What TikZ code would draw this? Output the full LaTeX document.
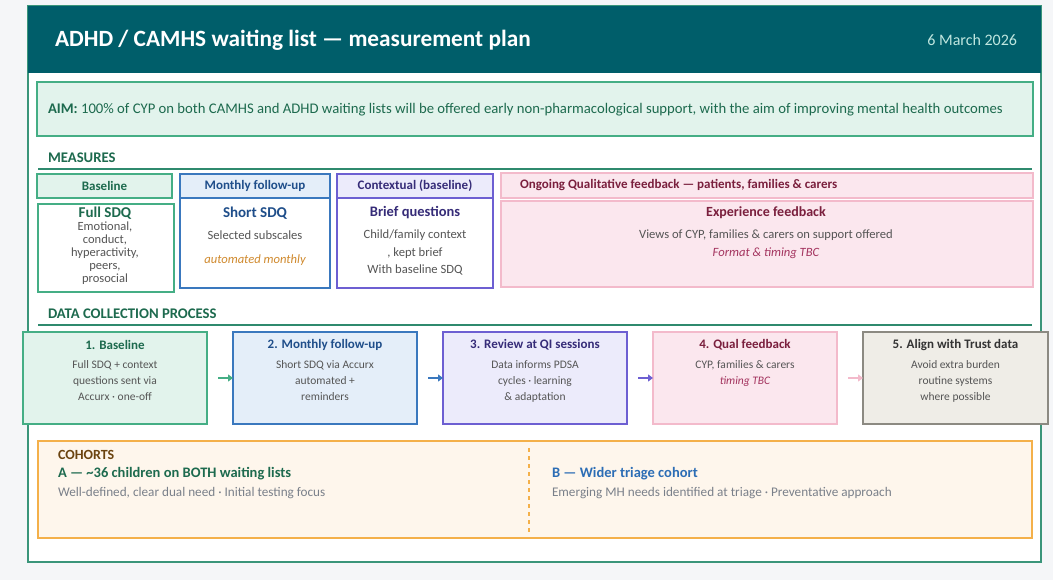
\documentclass[tikz,border=0pt]{standalone}
\usepackage{fontspec}
\setmainfont{Carlito}
\usetikzlibrary{arrows.meta}

% palette
\definecolor{pagebg}{HTML}{F5F6F8}
\definecolor{headteal}{HTML}{005E6A}
\definecolor{datecol}{HTML}{BFE6DF}
\definecolor{cardline}{HTML}{3A957A}
\definecolor{rulecol}{HTML}{2F8A6E}
\definecolor{grnfill}{HTML}{E2F3EC}
\definecolor{grnline}{HTML}{45AE85}
\definecolor{grntext}{HTML}{1D6A4E}
\definecolor{blufill}{HTML}{E4EEF9}
\definecolor{bluline}{HTML}{3A78BE}
\definecolor{blutext}{HTML}{1F4E8A}
\definecolor{purfill}{HTML}{ECEBFB}
\definecolor{purline}{HTML}{6D5FD2}
\definecolor{purtext}{HTML}{362C78}
\definecolor{pnkfill}{HTML}{FBE7EE}
\definecolor{pnkline}{HTML}{F3BACB}
\definecolor{pnktext}{HTML}{7A1F3D}
\definecolor{pnkital}{HTML}{A3335E}
\definecolor{orgital}{HTML}{D08A2E}
\definecolor{bodygray}{HTML}{555555}
\definecolor{gryfill}{HTML}{EFEDE7}
\definecolor{gryline}{HTML}{8C8A82}
\definecolor{grytext}{HTML}{333333}
\definecolor{cohfill}{HTML}{FEF6EC}
\definecolor{cohline}{HTML}{F4B04A}
\definecolor{cohtext}{HTML}{6B4410}
\definecolor{cohblue}{HTML}{2C6DB5}
\definecolor{cohgray}{HTML}{7A808A}

\newcommand\fsz[2]{\fontsize{#1}{#2}\selectfont}

\begin{document}
\begin{tikzpicture}[x=1pt,y=-1pt,
  every node/.append style={inner sep=0pt, outer sep=0pt},
  panel/.style={draw, line width=1.5pt, anchor=north west},
  headtxt/.style={font=\bfseries\fsz{13}{15}},
  bodytxt/.style={font=\fsz{12.6}{14}, text=bodygray},
  stepbox/.style={panel, minimum width=184, minimum height=92},
  steptitle/.style={font=\bfseries\fsz{13}{15}},
  steptxt/.style={font=\fsz{11.5}{16}, text=bodygray, align=center},
  sectlabel/.style={font=\bfseries\fsz{14.7}{17}, text=grntext, anchor=west},
  flow/.style={line width=1.5pt, -{Triangle[length=5pt,width=7pt]}, shorten <=11pt}
]
\useasboundingbox (0,0) rectangle (1053,580);
\fill[pagebg] (0,0) rectangle (1053,580);

% card and header band
\node[panel, fill=white, draw=cardline, line width=1.2pt, minimum width=1013, minimum height=556] (card) at (28,6) {};
\node[panel, fill=headteal, draw=none, minimum width=1013, minimum height=67] (header) at (28,6) {};
\node[anchor=west, text=white, font=\bfseries\fsz{23.3}{27}] (title) at (55,40) {ADHD / CAMHS waiting list — measurement plan};
\node[anchor=east, text=datecol, font=\fsz{16}{19}] (date) at (1017,40) {6 March 2026};

% aim
\node[panel, fill=grnfill, draw=grnline, minimum width=996, minimum height=54] (aim) at (37,82) {};
\node[anchor=west, text=grntext, font=\fsz{14.7}{17}] (aimtxt) at (48,110) {\textbf{AIM:} 100\% of CYP on both CAMHS and ADHD waiting lists will be offered early non-pharmacological support, with the aim of improving mental health outcomes};

% measures
\node[sectlabel] (measures) at (48,158) {MEASURES};
\draw[rulecol, line width=1.5pt] (38,169) -- (1032,169);

\node[panel, fill=grnfill, draw=grnline, minimum width=135, minimum height=24] (m1h) at (37,174) {};
\node[headtxt, text=grntext] at (m1h.center) {Baseline};
\node[panel, fill=white, draw=grnline, minimum width=136, minimum height=88] (m1b) at (38,204) {};
\node[font=\bfseries\fsz{15}{17}, text=grntext] (m1t) at (105,213) {Full SDQ};
\node[font=\fsz{12.5}{13}, text=bodygray, align=center, anchor=north] (m1l) at (105,222) {Emotional,\\conduct,\\hyperactivity,\\peers,\\prosocial};

\node[panel, fill=blufill, draw=bluline, minimum width=150, minimum height=24] (m2h) at (180,174) {};
\node[headtxt, text=blutext] at (m2h.center) {Monthly follow-up};
\node[panel, fill=white, draw=bluline, minimum width=150, minimum height=90] (m2b) at (180,198) {};
\node[font=\bfseries\fsz{15}{17}, text=blutext] (m2t) at (255,213) {Short SDQ};
\node[bodytxt] (m2l) at (255,235) {Selected subscales};
\node[font=\itshape\fsz{12.6}{14}, text=orgital] (m2i) at (255,260) {automated monthly};

\node[panel, fill=purfill, draw=purline, minimum width=156, minimum height=24] (m3h) at (337,174) {};
\node[headtxt, text=purtext] at (m3h.center) {Contextual (baseline)};
\node[panel, fill=white, draw=purline, minimum width=156, minimum height=90] (m3b) at (337,198) {};
\node[font=\bfseries\fsz{14.5}{17}, text=purtext] (m3t) at (415,213) {Brief questions};
\node[bodytxt] (m3a) at (415,235) {Child/family context};
\node[bodytxt] (m3c) at (415,253) {, kept brief};
\node[bodytxt] (m3d) at (415,270) {With baseline SDQ};

\node[panel, fill=pnkfill, draw=pnkline, minimum width=532, minimum height=25] (m4h) at (501,173) {};
\node[headtxt, text=pnktext, anchor=west] at ([xshift=19pt]m4h.west) {Ongoing Qualitative feedback — patients, families \& carers};
\node[panel, fill=pnkfill, draw=pnkline, minimum width=532, minimum height=86] (m4b) at (501,201) {};
\node[font=\bfseries\fsz{14}{17}, text=pnktext] (m4t) at (766,213) {Experience feedback};
\node[bodytxt] (m4l) at (766,235) {Views of CYP, families \& carers on support offered};
\node[font=\itshape\fsz{12.6}{14}, text=pnkital] (m4i) at (766,253) {Format \& timing TBC};

% data collection process
\node[sectlabel] (process) at (48,314) {DATA COLLECTION PROCESS};
\draw[rulecol, line width=1.5pt] (38,325) -- (1032,325);

\node[stepbox, fill=grnfill, draw=grnline] (p1) at (23,332) {};
\node[steptitle, text=grntext] at ([yshift=-13pt]p1.north) {1. Baseline};
\node[steptxt, anchor=north] at ([yshift=-29pt]p1.north) {Full SDQ + context\\questions sent via\\Accurx · one-off};

\node[stepbox, fill=blufill, draw=bluline] (p2) at (233,332) {};
\node[steptitle, text=blutext] at ([yshift=-13pt]p2.north) {2. Monthly follow-up};
\node[steptxt, anchor=north] at ([yshift=-29pt]p2.north) {Short SDQ via Accurx\\automated +\\reminders};

\node[stepbox, fill=purfill, draw=purline] (p3) at (443,332) {};
\node[steptitle, text=purtext] at ([yshift=-13pt]p3.north) {3. Review at QI sessions};
\node[steptxt, anchor=north] at ([yshift=-29pt]p3.north) {Data informs PDSA\\cycles · learning\\\& adaptation};

\node[stepbox, fill=pnkfill, draw=pnkline] (p4) at (653,332) {};
\node[steptitle, text=pnktext] at ([yshift=-13pt]p4.north) {4. Qual feedback};
\node[steptxt, anchor=north] at ([yshift=-29pt]p4.north) {CYP, families \& carers\\\textcolor{pnkital}{\itshape timing TBC}};

\node[stepbox, fill=gryfill, draw=gryline, minimum width=185] (p5) at (863,332) {};
\node[steptitle, text=grytext] at ([yshift=-13pt]p5.north) {5. Align with Trust data};
\node[steptxt, anchor=north] at ([yshift=-29pt]p5.north) {Avoid extra burden\\routine systems\\where possible};

\draw[flow, draw=grnline] (p1.east) -- (p2.west);
\draw[flow, draw=bluline] (p2.east) -- (p3.west);
\draw[flow, draw=purline] (p3.east) -- (p4.west);
\draw[flow, draw=pnkline] (p4.east) -- (p5.west);

% cohorts
\node[panel, fill=cohfill, draw=cohline, minimum width=994, minimum height=97] (coh) at (38,441) {};
\node[anchor=west, font=\bfseries\fsz{14}{16}, text=cohtext] (cohlab) at (58,455) {COHORTS};
\node[anchor=west, font=\bfseries\fsz{14.5}{17}, text=grntext] (ca) at (58,474) {A — \textasciitilde36 children on BOTH waiting lists};
\node[anchor=west, font=\fsz{13.2}{15}, text=cohgray] (cad) at (58,493) {Well-defined, clear dual need · Initial testing focus};
\draw[cohline, line width=1.3pt, dash pattern=on 4pt off 4pt] (529,448) -- (529,533);
\node[anchor=west, font=\bfseries\fsz{14.5}{17}, text=cohblue] (cb) at (552,474) {B — Wider triage cohort};
\node[anchor=west, font=\fsz{13.2}{15}, text=cohgray] (cbd) at (552,493) {Emerging MH needs identified at triage · Preventative approach};
\end{tikzpicture}
\end{document}
